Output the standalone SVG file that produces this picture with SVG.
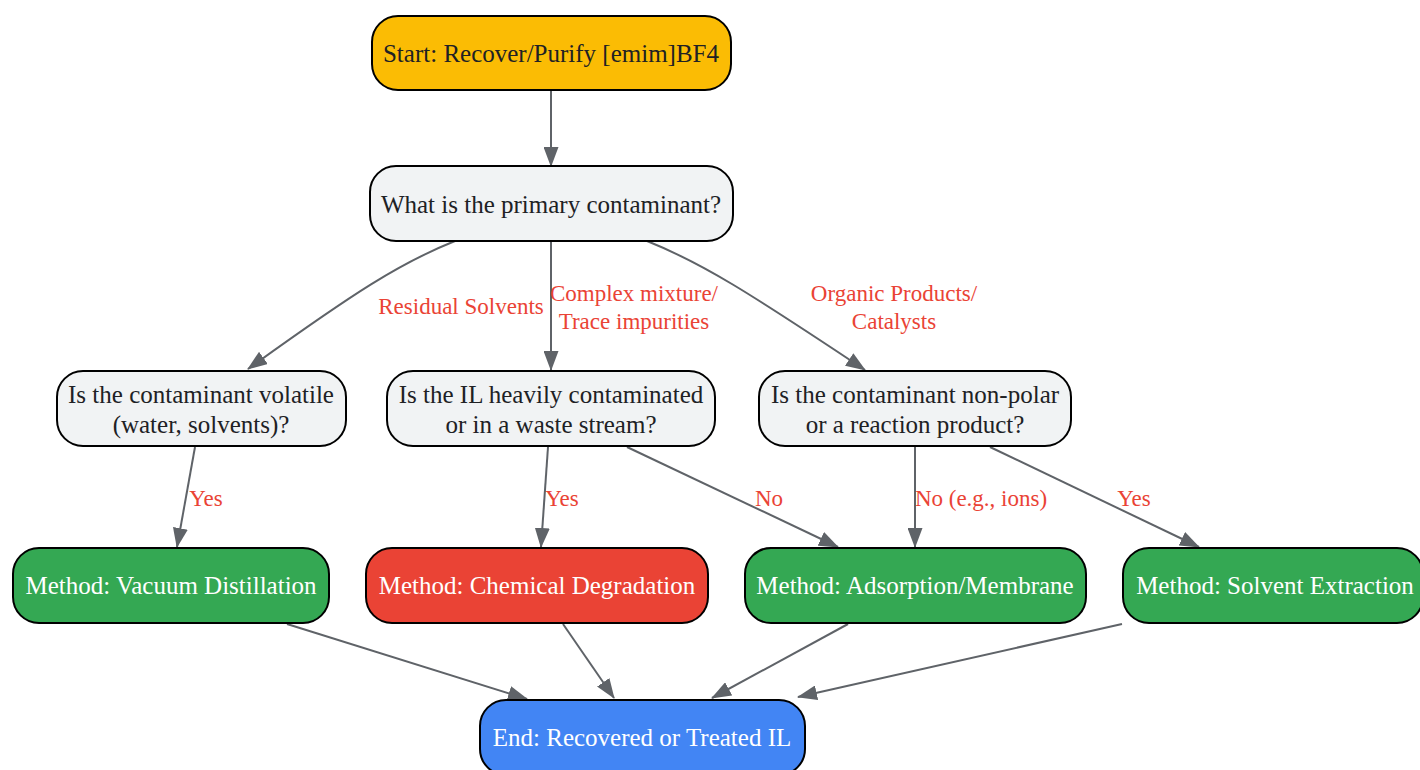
<svg xmlns="http://www.w3.org/2000/svg" width="1420" height="770" viewBox="0 0 1420 770">
<defs>
<marker id="arr" viewBox="0 0 20 15" refX="19" refY="7.5" markerWidth="20" markerHeight="15" markerUnits="userSpaceOnUse" orient="auto">
<path d="M0,0 L20,7.5 L0,15 z" fill="#5F6368"/>
</marker>
<style>
.n rect{stroke:#000;stroke-width:2}
.t{font-family:"Liberation Serif","Times New Roman",serif;font-size:25px;text-anchor:middle}
.dk{fill:#202124}
.wt{fill:#fff}
.e{fill:none;stroke:#5F6368;stroke-width:2;marker-end:url(#arr)}
.l{font-family:"Liberation Serif","Times New Roman",serif;font-size:23px;fill:#EA4335}
</style>
</defs>
<rect width="1420" height="770" fill="#fff"/>
<g id="connectors">
<path class="e" d="M551,90 L551,166"/>
<path class="e" d="M455,241 C400,263 355,292 248,369"/>
<path class="e" d="M551,241 L551,370"/>
<path class="e" d="M647,241 C702,263 748,292 865,370"/>
<path class="e" d="M195,447 L177,547"/>
<path class="e" d="M548,447 L541,547"/>
<path class="e" d="M627,447 L838,547"/>
<path class="e" d="M915,447 L915,547"/>
<path class="e" d="M990,447 L1199,547"/>
<path class="e" d="M287,624 L527,699"/>
<path class="e" d="M563,624 L614,698"/>
<path class="e" d="M848,624 L712,698"/>
<path class="e" d="M1122,624 L798,697"/>
<text class="l" x="461" y="314" text-anchor="middle">Residual Solvents</text>
<text class="l" x="634" y="301" text-anchor="middle">Complex mixture/</text>
<text class="l" x="634" y="329" text-anchor="middle">Trace impurities</text>
<text class="l" x="894" y="301" text-anchor="middle">Organic Products/</text>
<text class="l" x="894" y="329" text-anchor="middle">Catalysts</text>
<text class="l" x="206" y="506" text-anchor="middle">Yes</text>
<text class="l" x="562" y="506" text-anchor="middle">Yes</text>
<text class="l" x="769" y="506" text-anchor="middle">No</text>
<text class="l" x="981" y="506" text-anchor="middle">No (e.g., ions)</text>
<text class="l" x="1134" y="506" text-anchor="middle">Yes</text>
</g>
<g id="start" class="n">
<rect x="372" y="16" width="359" height="74" rx="26" fill="#FBBC04"/>
<text class="t dk" x="551" y="62">Start: Recover/Purify [emim]BF4</text>
</g>
<g id="q0" class="n">
<rect x="370" y="166" width="363" height="75" rx="26" fill="#F1F3F4"/>
<text class="t dk" x="551" y="213">What is the primary contaminant?</text>
</g>
<g id="q1" class="n">
<rect x="57" y="371" width="289" height="75" rx="26" fill="#F1F3F4"/>
<text class="t dk" x="201" y="403">Is the contaminant volatile</text>
<text class="t dk" x="201" y="433">(water, solvents)?</text>
</g>
<g id="q2" class="n">
<rect x="387" y="371" width="328" height="75" rx="26" fill="#F1F3F4"/>
<text class="t dk" x="551" y="403">Is the IL heavily contaminated</text>
<text class="t dk" x="551" y="433">or in a waste stream?</text>
</g>
<g id="q3" class="n">
<rect x="759" y="371" width="312" height="75" rx="26" fill="#F1F3F4"/>
<text class="t dk" x="915" y="403">Is the contaminant non-polar</text>
<text class="t dk" x="915" y="433">or a reaction product?</text>
</g>
<g id="m1" class="n">
<rect x="13" y="548" width="316" height="75" rx="26" fill="#34A853"/>
<text class="t wt" x="171" y="594">Method: Vacuum Distillation</text>
</g>
<g id="m2" class="n">
<rect x="366" y="548" width="342" height="75" rx="26" fill="#EA4335"/>
<text class="t wt" x="537" y="594">Method: Chemical Degradation</text>
</g>
<g id="m3" class="n">
<rect x="745" y="548" width="341" height="75" rx="26" fill="#34A853"/>
<text class="t wt" x="915" y="594">Method: Adsorption/Membrane</text>
</g>
<g id="m4" class="n">
<rect x="1123" y="548" width="300" height="75" rx="26" fill="#34A853"/>
<text class="t wt" x="1275" y="594">Method: Solvent Extraction</text>
</g>
<g id="end" class="n">
<rect x="480" y="700" width="325" height="75" rx="26" fill="#4285F4"/>
<text class="t wt" x="642" y="746">End: Recovered or Treated IL</text>
</g>
</svg>
